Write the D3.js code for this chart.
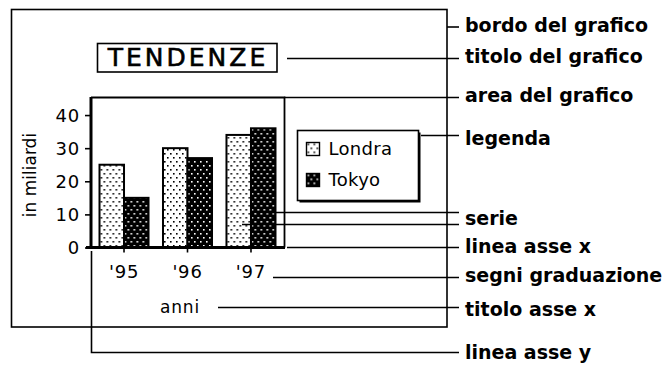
<!DOCTYPE html>
<html>
<head>
<meta charset="utf-8">
<script src="https://cdn.jsdelivr.net/npm/d3@7"></script>
<style>
  body { margin: 0; background: #fff; }
  svg { display: block; }
  .chartText { font-family: "DejaVu Sans", sans-serif; font-size: 17px; fill: #000; letter-spacing: 0.8px; }
  .callText { font-family: "DejaVu Sans", sans-serif; font-size: 19px; font-weight: bold; fill: #000; }
</style>
</head>
<body>
<div id="chart"></div>
<script>
// dati del grafico
var anni = ["'95", "'96", "'97"];
var serie = ["Londra", "Tokyo"];
var londra = [25, 30, 34];
var tokyo = [15, 27, 36];
var yTicks = [0, 10, 20, 30, 40];
var titolo = "TENDENZE";
var titoloY = "in miliardi";
var titoloX = "anni";
var richiami = ["bordo del grafico", "titolo del grafico", "area del grafico", "legenda",
  "serie", "linea asse x", "segni graduazione", "titolo asse x", "linea asse y"];

var width = 671, height = 365;

var svg = d3.select("#chart").append("svg")
  .attr("width", width)
  .attr("height", height);

var defs = svg.append("defs");
// retino chiaro (Londra) e scuro (Tokyo)
function retino(id, bg, fg) {
  var p = defs.append("pattern")
    .attr("id", id)
    .attr("patternUnits", "userSpaceOnUse")
    .attr("width", 6).attr("height", 8);
  p.append("rect").attr("width", 6).attr("height", 8).attr("fill", bg);
  p.append("rect").attr("x", 1).attr("y", 1).attr("width", 1.6).attr("height", 1.6).attr("fill", fg);
  p.append("rect").attr("x", 4).attr("y", 5).attr("width", 1.6).attr("height", 1.6).attr("fill", fg);
}
retino("chiaro", "#fff", "#000");
retino("scuro", "#000", "#fff");
var riempi = { Londra: "url(#chiaro)", Tokyo: "url(#scuro)" };

var tabella = anni.map(function (a, i) {
  return { anno: a, valori: [{ s: "Londra", v: londra[i] }, { s: "Tokyo", v: tokyo[i] }] };
});

// bordo del grafico
svg.append("rect")
  .attr("x", 11.5).attr("y", 9.5).attr("width", 435.5).attr("height", 317.5)
  .attr("fill", "none").attr("stroke", "#000").attr("stroke-width", 1.6);

// titolo
svg.append("rect")
  .attr("x", 97.5).attr("y", 43.5).attr("width", 179.5).attr("height", 28.5)
  .attr("fill", "none").attr("stroke", "#000").attr("stroke-width", 1.6);
svg.append("text")
  .attr("x", 188).attr("y", 65.5)
  .attr("text-anchor", "middle")
  .style("font-family", "DejaVu Sans, sans-serif")
  .style("font-size", "25px")
  .style("letter-spacing", "3px")
  .style("stroke", "#000")
  .style("stroke-width", 0.6)
  .text(titolo);

var plot = { left: 91, right: 284, top: 97, bottom: 247.5 };

var x0 = d3.scaleBand()
  .domain(anni)
  .range([plot.left, plot.right])
  .paddingInner(0.228)
  .paddingOuter(0.134);
var x1 = d3.scaleBand()
  .domain(serie)
  .range([0, x0.bandwidth()]);
var y = d3.scaleLinear()
  .domain([0, 45])
  .range([plot.bottom, plot.bottom - 45 * 3.311]);

// area del grafico (bordo sopra e a destra)
svg.append("path")
  .attr("d", "M" + plot.left + "," + (plot.top + 0.5) + "H" + (plot.right + 0.5) + "V" + plot.bottom)
  .attr("fill", "none").attr("stroke", "#000").attr("stroke-width", 1.8);

// barre
var gruppi = svg.selectAll(".gruppo")
  .data(tabella)
  .enter().append("g")
  .attr("class", "gruppo")
  .attr("transform", function (d) { return "translate(" + x0(d.anno) + ",0)"; });

gruppi.selectAll("rect")
  .data(function (d) { return d.valori; })
  .enter().append("rect")
  .attr("x", function (d) { return x1(d.s); })
  .attr("y", function (d) { return y(d.v); })
  .attr("width", x1.bandwidth())
  .attr("height", function (d) { return y(0) - y(d.v); })
  .attr("fill", function (d) { return riempi[d.s]; })
  .attr("stroke", "#000")
  .attr("stroke-width", 2);

// assi
var yAxis = svg.append("g")
  .attr("transform", "translate(" + plot.left + ",0)")
  .call(d3.axisLeft(y).tickValues(yTicks).tickSize(6).tickSizeOuter(0).tickPadding(5));
yAxis.select(".domain").attr("d", "M0," + (plot.bottom + 1) + "V" + plot.top).attr("stroke-width", 3);
yAxis.selectAll(".tick line").attr("stroke-width", 1.6);
yAxis.selectAll("text").attr("class", "chartText").attr("dy", "0.36em").style("font-size", "18px");

var xAxis = svg.append("g")
  .attr("transform", "translate(0," + plot.bottom + ")")
  .call(d3.axisBottom(x0).tickSize(5).tickSizeOuter(0).tickPadding(13));
xAxis.select(".domain").attr("d", "M" + (plot.left - 5) + ",0H" + (plot.right + 1)).attr("stroke-width", 3);
xAxis.selectAll(".tick line").attr("stroke-width", 1.6);
xAxis.selectAll("text").attr("class", "chartText").style("font-size", "18px");

svg.append("text")
  .attr("class", "chartText")
  .attr("x", 180).attr("y", 313)
  .attr("text-anchor", "middle")
  .text(titoloX);

svg.append("text")
  .attr("class", "chartText")
  .attr("transform", "translate(36,175) rotate(-90)")
  .attr("text-anchor", "middle")
  .style("letter-spacing", "0px")
  .text(titoloY);

// legenda
var leg = svg.append("g").attr("transform", "translate(297.5,130.5)");
leg.append("rect").attr("x", 2).attr("y", 2).attr("width", 121).attr("height", 70).attr("fill", "#000");
leg.append("rect").attr("width", 121).attr("height", 70).attr("fill", "#fff")
  .attr("stroke", "#000").attr("stroke-width", 1.6);
var voci = leg.selectAll(".voce")
  .data(serie)
  .enter().append("g")
  .attr("class", "voce")
  .attr("transform", function (d, i) { return "translate(9," + (12 + i * 31) + ")"; });
voci.append("rect")
  .attr("width", 13).attr("height", 13)
  .attr("fill", function (d) { return riempi[d]; })
  .attr("stroke", "#000").attr("stroke-width", 1.4);
voci.append("text")
  .attr("class", "chartText")
  .attr("x", 22).attr("y", 12.5)
  .style("font-size", "18px")
  .style("letter-spacing", "0.3px")
  .text(function (d) { return d; });

// richiami
var fine = 459;
var linee = [
  [[447, 27], [fine, 27]],
  [[287, 58.5], [fine, 58.5]],
  [[284, 97.5], [fine, 97.5]],
  [[421, 135.5], [fine, 135.5]],
  [[265, 212.5], [fine, 212.5]],
  [[242, 224.5], [fine, 224.5]],
  [[287, 247.5], [fine, 247.5]],
  [[273, 277.5], [fine, 277.5]],
  [[218, 307.5], [fine, 307.5]],
  [[91.5, 251], [91.5, 352.5], [fine, 352.5]]
];
svg.selectAll(".richiamo")
  .data(linee)
  .enter().append("path")
  .attr("class", "richiamo")
  .attr("d", d3.line())
  .attr("fill", "none").attr("stroke", "#000").attr("stroke-width", 1.6);

var baseY = [32, 63, 102, 145, 225, 253, 282, 316, 359];
svg.selectAll(".callText")
  .data(richiami)
  .enter().append("text")
  .attr("class", "callText")
  .attr("x", 465)
  .attr("y", function (d, i) { return baseY[i]; })
  .text(function (d) { return d; });
</script>
</body>
</html>
